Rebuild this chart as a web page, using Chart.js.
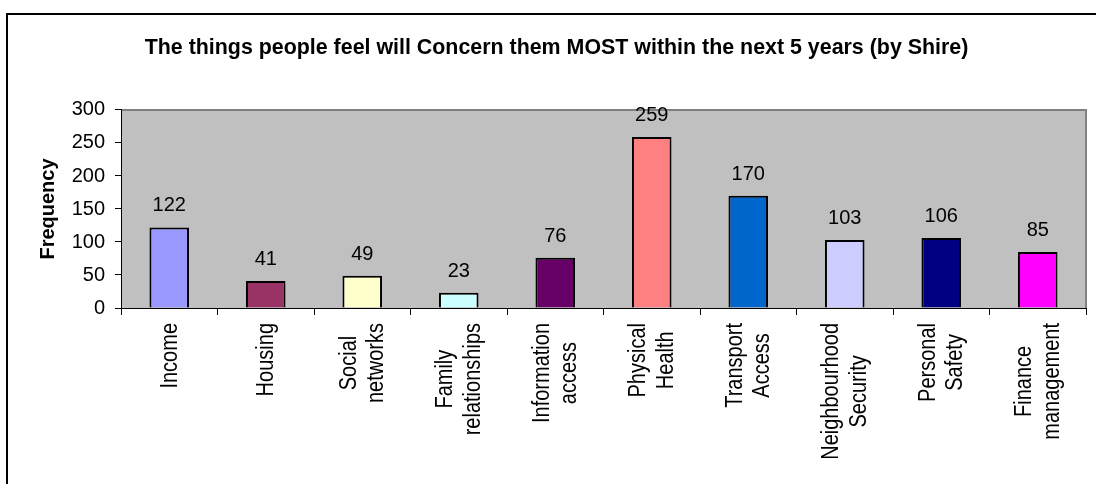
<!DOCTYPE html>
<html>
<head>
<meta charset="utf-8">
<title>Concerns within the next 5 years</title>
<script src="https://cdn.jsdelivr.net/npm/chart.js@4/dist/chart.umd.min.js"></script>
<style>
  html, body { margin: 0; padding: 0; background: #fff; overflow: hidden; }
  #frame {
    position: absolute; left: 6px; top: 13px; width: 1300px; height: 700px;
    border-top: 2px solid #000; border-left: 2px solid #000;
  }
  #concernChart { position: absolute; left: 0; top: 0; }
</style>
</head>
<body>
<div id="frame"></div>
<canvas id="concernChart" width="1096" height="484"></canvas>
<script>
// survey answers, one bar per concern
const categories = [
	['Income'],
	['Housing'],
	['Social', 'networks'],
	['Family', 'relationships'],
	['Information', 'access'],
	['Physical', 'Health'],
	['Transport', 'Access'],
	['Neighbourhood', 'Security'],
	['Personal', 'Safety'],
	['Finance', 'management']
];
const frequencies = [122, 41, 49, 23, 76, 259, 170, 103, 106, 85];
const barColours = ['#9999FF', '#993366', '#FFFFCC', '#CCFFFF', '#660066', '#FF8080', '#0066CC', '#CCCCFF', '#000080', '#FF00FF'];
const yMin = 0, yMax = 300, yStep = 50;

const FONT = '"Liberation Sans", Arial, sans-serif';
const padLeft = 27;
const labelGap = 15;
const labelLineHeight = 27.5;
const labelStretch = 1.15;	// glyphs a little fatter across the line

// grey plot area with the darker rim on top and right
const plotBackground = {
	id: 'plotBackground',
	beforeDraw(chart) {
		const { ctx, chartArea: a } = chart;
		ctx.save();
		ctx.fillStyle = '#C0C0C0';
		ctx.fillRect(a.left, a.top, a.right - a.left, a.bottom - a.top);
		ctx.strokeStyle = '#808080';
		ctx.lineWidth = 2;
		ctx.beginPath();
		ctx.moveTo(a.left, a.top);
		ctx.lineTo(a.right, a.top);
		ctx.lineTo(a.right, a.bottom);
		ctx.stroke();
		ctx.restore();
	}
};

// value printed above each bar
const valueLabels = {
	id: 'valueLabels',
	afterDraw(chart) {
		const { ctx } = chart;
		const meta = chart.getDatasetMeta(0);
		ctx.save();
		ctx.font = '20px ' + FONT;
		ctx.fillStyle = '#000';
		ctx.textAlign = 'center';
		ctx.textBaseline = 'alphabetic';
		meta.data.forEach((bar, i) => {
			ctx.fillText(String(frequencies[i]), bar.x, bar.y - 16);
		});
		ctx.restore();
	}
};

// rotated category names, lines centred on each other
const categoryLabels = {
	id: 'categoryLabels',
	afterDraw(chart) {
		const { ctx } = chart;
		const x = chart.scales.x;
		ctx.save();
		ctx.font = '20px ' + FONT;
		ctx.fillStyle = '#000';
		ctx.textAlign = 'center';
		ctx.textBaseline = 'middle';
		categories.forEach((lines, i) => {
			const px = x.getPixelForTick(i);
			const widest = Math.max(...lines.map(l => ctx.measureText(l).width));
			const py = x.top + labelGap + widest / 2;
			lines.forEach((line, j) => {
				ctx.save();
				ctx.translate(px + (j - (lines.length - 1) / 2) * labelLineHeight + 1, py);
				ctx.rotate(-Math.PI / 2);
				ctx.scale(1, labelStretch);
				ctx.fillText(line, 0, 0);
				ctx.restore();
			});
		});
		ctx.restore();
	}
};

const ctx = document.getElementById('concernChart').getContext('2d');
const concernChart = new Chart(ctx, {
	type: 'bar',
	data: {
		labels: categories,
		datasets: [{
			data: frequencies,
			backgroundColor: barColours,
			borderColor: '#000',
			borderWidth: 2,
			barPercentage: 0.41,
			categoryPercentage: 1
		}]
	},
	options: {
		responsive: false,
		animation: false,
		layout: { padding: { left: padLeft, right: 10, top: 0, bottom: 0 } },
		plugins: {
			legend: { display: false },
			tooltip: { enabled: false },
			title: {
				display: true,
				text: 'The things people feel will Concern them MOST within the next 5 years (by Shire)',
				color: '#000',
				font: { family: FONT, size: 21.4, weight: 'bold', lineHeight: 1.2 },
				padding: { top: 35.5, bottom: 48.8 }
			}
		},
		scales: {
			x: {
				grid: { display: true, drawOnChartArea: false, drawTicks: true, tickLength: 7, color: '#000', offset: true },
				border: { display: true, color: '#000', width: 1 },
				ticks: { display: false },
				afterFit(scale) { scale.height = 176; }
			},
			y: {
				min: yMin,
				max: yMax,
				grid: { display: true, drawOnChartArea: false, drawTicks: true, tickLength: 6, color: '#000' },
				border: { display: true, color: '#000', width: 1 },
				ticks: {
					stepSize: yStep,
					padding: 10,
					color: '#000',
					font: { family: FONT, size: 20 }
				},
				title: {
					display: true,
					text: 'Frequency',
					color: '#000',
					font: { family: FONT, size: 20, weight: 'bold', lineHeight: 1.2 },
					padding: { top: 9, bottom: 0 }
				},
				afterFit(scale) { scale.width = 121 - padLeft; }
			}
		}
	},
	plugins: [plotBackground, valueLabels, categoryLabels]
});
</script>
</body>
</html>
